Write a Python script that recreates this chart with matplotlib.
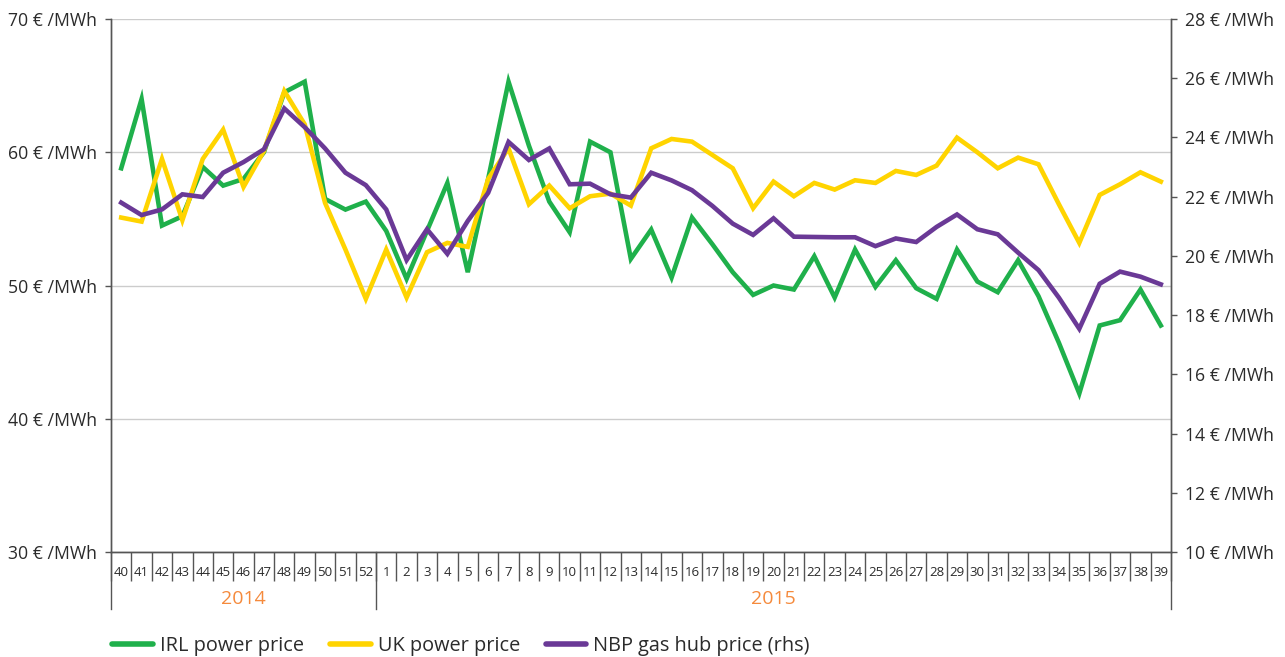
import matplotlib.pyplot as plt
from matplotlib.lines import Line2D

plt.rcParams["font.family"] = ["Open Sans", "DejaVu Sans"]

# ISO weeks: 40-52 of 2014, then 1-39 of 2015
weeks_2014 = list(range(40, 53))
weeks_2015 = list(range(1, 40))
week_labels = [str(w) for w in weeks_2014 + weeks_2015]
years = ["2014", "2015"]

# IRL power price, EUR/MWh (left axis)
irl_price = [
    58.8, 64.0, 54.5, 55.2, 58.9, 57.5, 58.0, 60.0, 64.5, 65.3, 56.5, 55.7, 56.3,
    54.1, 50.5, 54.1, 57.7, 51.0, 58.0, 65.3, 60.5, 56.3, 54.0, 60.8, 60.0, 52.0,
    54.2, 50.6, 55.1, 53.1, 51.0, 49.3, 50.0, 49.7, 52.2, 49.1, 52.7, 49.9, 51.9,
    49.8, 49.0, 52.7, 50.3, 49.5, 51.9, 49.2, 45.7, 41.9, 47.0, 47.4, 49.7, 47.0,
]
# UK power price, EUR/MWh (left axis)
uk_price = [
    55.1, 54.8, 59.5, 54.9, 59.5, 61.7, 57.4, 60.1, 64.6, 62.1, 56.2, 52.7, 49.0,
    52.7, 49.1, 52.5, 53.2, 52.9, 58.0, 60.3, 56.1, 57.5, 55.8, 56.7, 56.9, 56.0,
    60.3, 61.0, 60.8, 59.8, 58.8, 55.8, 57.8, 56.7, 57.7, 57.2, 57.9, 57.7, 58.6,
    58.3, 59.0, 61.1, 60.0, 58.8, 59.6, 59.1, 56.1, 53.2, 56.8, 57.6, 58.5, 57.8,
]
# NBP gas hub price, EUR/MWh (right axis)
nbp_price = [
    21.80, 21.38, 21.57, 22.08, 21.99, 22.81, 23.17, 23.60, 24.98, 24.35, 23.63,
    22.81, 22.39, 21.57, 19.86, 20.90, 20.07, 21.18, 22.13, 23.85, 23.24, 23.63,
    22.42, 22.44, 22.08, 21.97, 22.81, 22.55, 22.22, 21.69, 21.09, 20.71, 21.27,
    20.65, 20.64, 20.63, 20.63, 20.33, 20.59, 20.47, 20.98, 21.40, 20.90, 20.73,
    20.11, 19.52, 18.59, 17.54, 19.06, 19.47, 19.30, 19.04,
]

GREEN = "#1fb04b"
YELLOW = "#ffd400"
PURPLE = "#6a3996"
ORANGE = "#f58a3c"
AXIS_COL = "#555555"
TEXT_COL = "#2b2b2b"

n = len(week_labels)
x = list(range(n))

fig, ax = plt.subplots(figsize=(12.85, 6.57), dpi=100)
fig.subplots_adjust(left=0.0864, right=0.9113, top=0.971, bottom=0.1598)
ax2 = ax.twinx()

lw = 3.3
ax.plot(x, irl_price, color=GREEN, lw=lw, solid_joinstyle="miter", zorder=3)
ax.plot(x, uk_price, color=YELLOW, lw=lw, solid_joinstyle="miter", zorder=4)
ax2.plot(x, nbp_price, color=PURPLE, lw=lw, solid_joinstyle="miter", zorder=3)

ax.set_xlim(-0.5, n - 0.5)
ax.set_ylim(30, 70)
ax2.set_ylim(10, 28)

ax.set_yticks(range(30, 71, 10))
ax.set_yticklabels([f"{v} € /MWh" for v in range(30, 71, 10)])
ax2.set_yticks(range(10, 29, 2))
ax2.set_yticklabels([f"{v} € /MWh" for v in range(10, 29, 2)])

ax.grid(axis="y", color="#cccccc", lw=1.0)
ax.set_axisbelow(True)

for a in (ax, ax2):
    a.spines["top"].set_visible(False)
    for side in ("left", "right", "bottom"):
        a.spines[side].set_color(AXIS_COL)
        a.spines[side].set_linewidth(1.0)
    a.tick_params(axis="y", length=4, width=1.0, color=AXIS_COL,
                  labelsize=12.7, labelcolor=TEXT_COL, pad=6)
ax2.tick_params(axis="x", which="both", length=0, labelbottom=False)

# week labels in the middle of each slot, separators between slots
ax.set_xticks(x)
ax.set_xticklabels(week_labels)
ax.set_xticks([i - 0.5 for i in range(n + 1)], minor=True)
ax.tick_params(axis="x", which="major", length=0, labelsize=9.5,
               labelcolor=TEXT_COL, pad=10)
ax.tick_params(axis="x", which="minor", length=21, width=1.0, color=AXIS_COL)

# year group separators and labels
trans = ax.get_xaxis_transform()
n14 = len(weeks_2014)
for xb in (-0.5, n14 - 0.5, n - 0.5):
    ax.add_line(Line2D([xb, xb], [0, -0.107], transform=trans, color=AXIS_COL,
                       lw=1.0, clip_on=False))
ax.text((n14 - 1) / 2, -0.088, years[0], transform=trans, ha="center",
        va="center", color=ORANGE, fontsize=14)
ax.text((n14 + n - 1) / 2, -0.088, years[1], transform=trans, ha="center",
        va="center", color=ORANGE, fontsize=14)

handles = [
    Line2D([], [], color=GREEN, lw=4, solid_capstyle="round"),
    Line2D([], [], color=YELLOW, lw=4, solid_capstyle="round"),
    Line2D([], [], color=PURPLE, lw=4, solid_capstyle="round"),
]
fig.legend(handles, ["IRL power price", "UK power price", "NBP gas hub price (rhs)"],
           loc="center left", bbox_to_anchor=(0.0875, 0.017), ncol=3,
           frameon=False, fontsize=14.3, handlelength=2.05, handletextpad=0.35,
           columnspacing=1.3, borderpad=0, borderaxespad=0, labelcolor=TEXT_COL)

fig.savefig("out.png", dpi=100)
